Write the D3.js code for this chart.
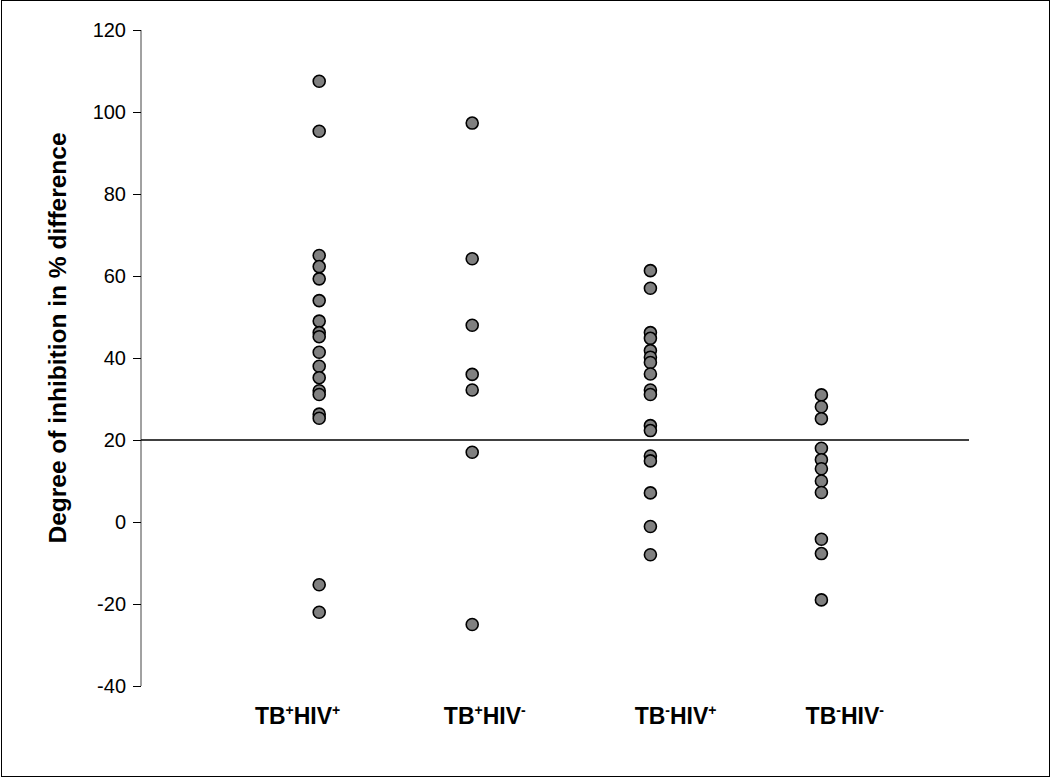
<!DOCTYPE html>
<html>
<head>
<meta charset="utf-8">
<script src="https://cdn.jsdelivr.net/npm/d3@7"></script>
<style>
  body { margin: 0; background: #fff; }
  svg { display: block; }
  text { font-family: "Liberation Sans", Arial, sans-serif; fill: #000; }
</style>
</head>
<body>
<div id="graf"></div>
<script>
// I. Datos
grupos = ['TB+HIV+', 'TB+HIV-', 'TB-HIV+', 'TB-HIV-']
signoTB  = ['+', '+', '-', '-']
signoHIV = ['+', '-', '+', '-']
grupoX = [0.99, 1.84, 2.83, 3.78]
etiquetaX = [0.87, 1.91, 2.97, 3.91]

tbPosHivPos = [107.5, 95.3, 65, 62.3, 59.3, 54, 49, 46.2, 45.2, 41.4, 38, 35.2, 32, 31.1, 26.3, 25.3, -15.3, -22]
tbPosHivNeg = [97.3, 64.2, 48, 36, 32.2, 17, -25]
tbNegHivPos = [61.3, 57, 46.2, 44.8, 41.8, 40.2, 38.9, 36.1, 32.2, 31.1, 23.5, 22.3, 16.1, 14.9, 7.1, -1.1, -8]
tbNegHivNeg = [31, 28.1, 25.2, 18, 15.2, 13, 10, 7.2, -4.2, -7.7, -19]

series = [tbPosHivPos, tbPosHivNeg, tbNegHivPos, tbNegHivNeg]

yTicks = [-40, -20, 0, 20, 40, 60, 80, 100, 120]
umbral = 20
umbralX = [0, 4.6]

// II. Configuración
ancho_total = 1051
alto_total = 778
margins = { top: 30, left: 141, right: 10, bottom: 92 }

svg = d3.select('#graf').append('svg')
  .attr('width', ancho_total)
  .attr('height', alto_total)

// marco exterior
svg.append('rect')
  .attr('x', 1.5).attr('y', 0.5)
  .attr('width', ancho_total - 3).attr('height', alto_total - 2)
  .attr('fill', 'none')
  .attr('stroke', '#000')
  .attr('stroke-width', 1)

y = d3.scaleLinear()
  .domain([-40, 120])
  .range([alto_total - margins.bottom, margins.top])

x = d3.scaleLinear()
  .domain([0, 5])
  .range([margins.left, margins.left + 900])

// eje Y
yAxis = d3.axisLeft(y)
  .tickValues(yTicks)
  .tickSize(8)
  .tickPadding(7)
  .tickFormat(d => d + '')

yAxisGroup = svg.append('g')
  .attr('transform', `translate(${ margins.left }, 0)`)
  .call(yAxis)

yAxisGroup.select('.domain')
  .attr('d', `M0,${ y(120) }V${ y(-40) }`)
  .attr('stroke', '#444')
yAxisGroup.selectAll('.tick line').attr('stroke', '#000')
yAxisGroup.selectAll('text')
  .style('font-family', '"Liberation Sans", Arial, sans-serif')
  .style('font-size', '20px')
  .attr('fill', '#000')

// título eje Y
svg.append('text')
  .attr('transform', `translate(66, ${ (y(120) + y(-40)) / 2 - 20 }) rotate(-90)`)
  .attr('text-anchor', 'middle')
  .style('font-size', '24.5px')
  .style('font-weight', 'bold')
  .text('Degree of inhibition in % difference')

// línea de umbral
svg.append('line')
  .attr('x1', x(umbralX[0])).attr('x2', x(umbralX[1]))
  .attr('y1', y(umbral)).attr('y2', y(umbral))
  .attr('stroke', '#000')
  .attr('stroke-width', 1.5)

// III. Puntos
series.forEach((vals, i) => {
  svg.append('g').selectAll('circle')
    .data(vals)
    .enter()
    .append('circle')
      .attr('cx', x(grupoX[i]))
      .attr('cy', d => y(d))
      .attr('r', 6)
      .attr('fill', '#808080')
      .attr('stroke', '#000')
      .attr('stroke-width', 1.6)
})

// etiquetas de grupos
grupos.forEach((g, i) => {
  t = svg.append('text')
    .attr('x', x(etiquetaX[i]))
    .attr('y', 724)
    .attr('text-anchor', 'middle')
    .style('font-size', '23px')
    .style('font-weight', 'bold')
  t.append('tspan').text('TB')
  t.append('tspan').attr('dy', -9).style('font-size', '14px').text(signoTB[i])
  t.append('tspan').attr('dy', 9).text('HIV')
  t.append('tspan').attr('dy', -9).style('font-size', '14px').text(signoHIV[i])
})
</script>
</body>
</html>
